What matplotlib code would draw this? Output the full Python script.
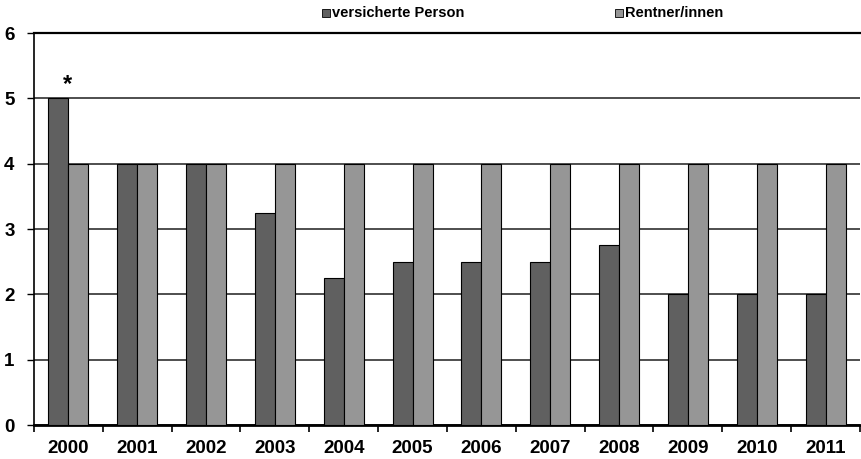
import matplotlib.pyplot as plt
import matplotlib.patches as patches
import numpy as np

plt.rcParams['font.family'] = ['Liberation Sans', 'DejaVu Sans']

years = ["2000", "2001", "2002", "2003", "2004", "2005",
         "2006", "2007", "2008", "2009", "2010", "2011"]
versicherte = [5, 4, 4, 3.25, 2.25, 2.5, 2.5, 2.5, 2.75, 2, 2, 2]
rentner = [4, 4, 4, 4, 4, 4, 4, 4, 4, 4, 4, 4]

dark = "#606060"
light = "#969696"

fig = plt.figure(figsize=(8.62, 4.59), dpi=100)
ax = fig.add_axes([34 / 862, 34 / 459, 826 / 862, 392 / 459])

x = np.arange(len(years))
w = 0.29
ax.bar(x - w / 2, versicherte, w, color=dark, edgecolor="black", linewidth=0.8, zorder=3)
ax.bar(x + w / 2, rentner, w, color=light, edgecolor="black", linewidth=0.8, zorder=3)

# Sternchen über 2000
ax.text(x[0] - 0.02, versicherte[0] + 0.03, "*", ha="center", va="bottom",
        fontsize=17, fontweight="bold")

ax.set_xlim(-0.5, len(years) - 0.5)
ax.set_ylim(0, 6)
ax.set_yticks(range(0, 7))
ax.yaxis.grid(True, color="#404040", linewidth=1.3, zorder=0)
ax.set_axisbelow(True)

# Ticks zwischen den Kategorien, Beschriftung mittig
ax.set_xticks(np.arange(-0.5, len(years), 1))
ax.set_xticklabels([])
ax.set_xticks(x, minor=True)
ax.set_xticklabels(years, minor=True, fontsize=13.5, fontweight="bold")
ax.tick_params(axis="x", which="minor", length=0, pad=11)
ax.tick_params(axis="x", which="major", direction="out", length=5, width=1.2)
ax.tick_params(axis="y", direction="out", length=5, width=1, labelsize=13.5, pad=9)
for lbl in ax.get_yticklabels():
    lbl.set_fontweight("bold")

ax.spines["right"].set_visible(False)
ax.spines["top"].set_linewidth(1.6)
ax.spines["left"].set_linewidth(1.2)
ax.spines["bottom"].set_linewidth(2)

# Legende oben
fig.patches.append(patches.Rectangle((322 / 862, 1 - 17 / 459), 8 / 862, 8 / 459,
                                     transform=fig.transFigure, facecolor=dark,
                                     edgecolor="black", linewidth=0.6))
fig.text(332 / 862, 1 - 13 / 459, "versicherte Person", fontsize=10.5, fontweight="bold",
         va="center", ha="left")
fig.patches.append(patches.Rectangle((615 / 862, 1 - 17 / 459), 8 / 862, 8 / 459,
                                     transform=fig.transFigure, facecolor=light,
                                     edgecolor="black", linewidth=0.6))
fig.text(625 / 862, 1 - 13 / 459, "Rentner/innen", fontsize=10.5, fontweight="bold",
         va="center", ha="left")

fig.savefig("out.png", dpi=100)
